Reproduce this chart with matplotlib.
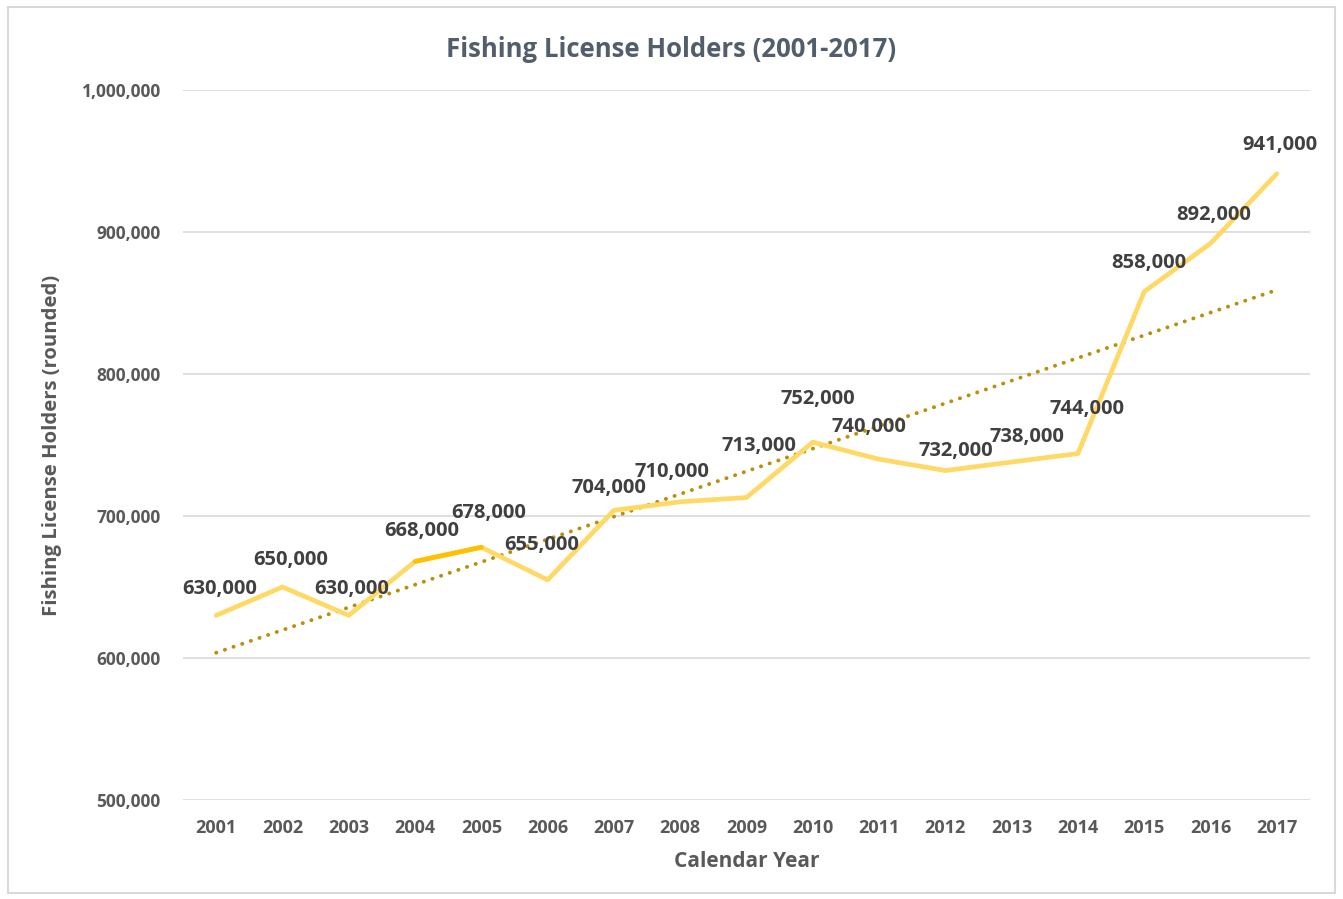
from matplotlib import pyplot as plt
from matplotlib.patches import Rectangle
from matplotlib.ticker import FuncFormatter
import numpy as np

plt.rcParams.update({"font.family": ["Open Sans", "DejaVu Sans"]})

years = ["2001", "2002", "2003", "2004", "2005", "2006", "2007", "2008", "2009",
         "2010", "2011", "2012", "2013", "2014", "2015", "2016", "2017"]
holders = [630000, 650000, 630000, 668000, 678000, 655000, 704000, 710000, 713000,
           752000, 740000, 732000, 738000, 744000, 858000, 892000, 941000]

# label offsets from the point, in pixels (dx, dy)
label_offsets = [(3, 26), (8, 27), (3, 26), (7, 30), (7, 34), (-6, 35), (-5, 22), (-8, 30),
                 (12, 52), (5, 43), (-10, 32), (10, 20), (15, 25), (9, 45), (5, 29), (3, 28), (3, 29)]

line_color = "#FFD966"
accent_color = "#FFC000"
trend_color = "#B8900A"
text_color = "#404040"

fig = plt.figure(figsize=(13.43, 8.99), dpi=100)
fig.patches.append(Rectangle((0.006, 0.007), 0.988, 0.985, transform=fig.transFigure,
                             fill=False, edgecolor="#D9D9D9", linewidth=1.5))
ax = fig.add_axes([0.1363, 0.1101, 0.8391, 0.7898])

x = np.arange(len(years))
ax.plot(x, holders, color=line_color, linewidth=3.4, solid_capstyle="round", zorder=3)
ax.plot(x[3:5], holders[3:5], color=accent_color, linewidth=3.4, solid_capstyle="round", zorder=4)

# linear trendline
coef = np.polyfit(x, holders, 1)
ax.plot(x, np.polyval(coef, x), color=trend_color, linewidth=2.8, linestyle=(0, (0.05, 2.3)),
        dash_capstyle="round", zorder=2)

for i, v in enumerate(holders):
    dx, dy = label_offsets[i]
    ax.annotate(f"{v:,}", (x[i], v), xytext=(dx, dy), textcoords="offset pixels",
                ha="center", va="center", fontsize=14.5, fontweight="bold", color=text_color, zorder=5)

ax.set_xlim(-0.5, len(years) - 0.5)
ax.set_ylim(500000, 1000000)
ax.set_yticks(np.arange(500000, 1000001, 100000))
ax.yaxis.set_major_formatter(FuncFormatter(lambda v, p: f"{int(v):,}"))
ax.set_xticks(x)
ax.set_xticklabels(years)
ax.grid(axis="y", color="#D9D9D9", linewidth=1.2)
ax.set_axisbelow(True)
for s in ax.spines.values():
    s.set_visible(False)
ax.tick_params(length=0, labelcolor="#595959")
ax.tick_params(axis="y", pad=16, labelsize=12.5)
ax.tick_params(axis="x", pad=14, labelsize=13)
for lbl in ax.get_xticklabels() + ax.get_yticklabels():
    lbl.set_fontweight("bold")

ax.set_xlabel("Calendar Year", fontsize=15, fontweight="bold", color="#595959", labelpad=10)
ax.set_ylabel("Fishing License Holders (rounded)", fontsize=14.6, fontweight="bold",
              color="#595959", labelpad=14)
fig.text(0.5, 0.945, "Fishing License Holders (2001-2017)", ha="center", va="center",
         fontsize=18.5, fontweight="bold", color="#525E6B")

fig.savefig("out.png", dpi=100)
